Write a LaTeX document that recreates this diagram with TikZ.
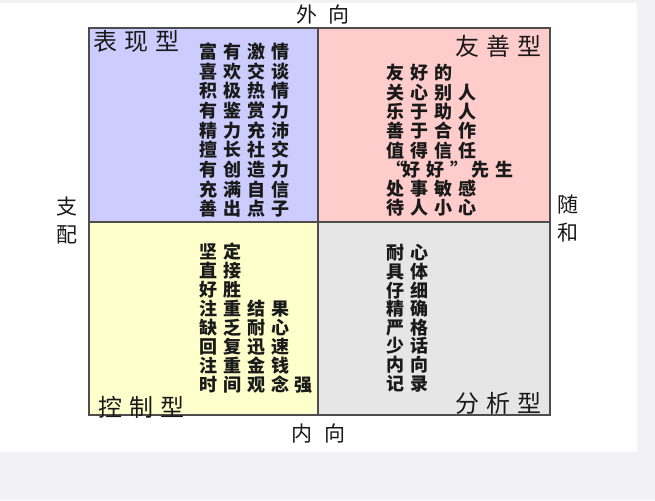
\documentclass[tikz,border=0pt]{standalone}
\usepackage{fontspec}
\newfontfamily\cjk{Noto Sans CJK SC}
\newfontfamily\cjkbody{Noto Sans CJK SC}[LetterSpace=33]
\newfontfamily\cjktitle{Noto Sans CJK SC}[LetterSpace=29]
\definecolor{qtl}{HTML}{CCCCFF}
\definecolor{qtr}{HTML}{FFCCCC}
\definecolor{qbl}{HTML}{FFFFCC}
\definecolor{qbr}{HTML}{E6E6E6}
\definecolor{edge}{HTML}{4D4D4D}
\definecolor{ink}{HTML}{1A1A1A}
\definecolor{backg}{HTML}{F2F2F4}
\tikzset{
  body/.style={inner sep=0pt, anchor=base west, text=ink, font=\cjkbody\bfseries\fontsize{18}{20}\selectfont},
  qtitle/.style={inner sep=0pt, anchor=base west, text=ink, font=\cjktitle\fontsize{24}{28}\selectfont},
  axislabel/.style={inner sep=0pt, text=ink, font=\cjk\fontsize{21}{28}\selectfont, align=center},
  quadline/.style={draw=edge, line width=1.6pt}
}
\begin{document}
\begin{tikzpicture}[x=1pt,y=-1pt]
\useasboundingbox (0,0) rectangle (655,500);
\fill[backg] (0,0) rectangle (655,500);
\fill[white] (0,3) rectangle (637,452);
% quadrants
\fill[qtl] (89,28) rectangle (318,222);
\fill[qtr] (318,28) rectangle (550,222);
\fill[qbl] (89,222) rectangle (318,415);
\fill[qbr] (318,222) rectangle (550,415);
\draw[quadline] (89,28) rectangle (550,415);
\draw[quadline] (318,28) -- (318,415);
\draw[quadline] (89,222) -- (550,222);
% titles
\node[qtitle] (ttl) at (93,51) {表现型};
\node[qtitle] (ttr) at (455,56) {友善型};
\node[qtitle] (tbl) at (98,416) {控制型};
\node[qtitle] (tbr) at (455,412) {分析型};
% axis labels
\node[axislabel, anchor=base] (top) at (323,23) {外\hspace{12pt}向};
\node[axislabel, anchor=base] (bottom) at (318.5,441) {内\hspace{12pt}向};
\node[axislabel] (left) at (67,220) {支\\配};
\node[axislabel] (right) at (568,218) {随\\和};
% body texts
\foreach \t [count=\i] in {富有激情,喜欢交谈,积极热情,有鉴赏力,精力充沛,擅长社交,有创造力,充满自信,善出点子}
  \node[body] (tl\i) at (199,{58.8+19.6*(\i-1)}) {\t};
\foreach \t [count=\i] in {友好的,关心别人,乐于助人,善于合作,值得信任,{“\kern-2pt 好好”\kern3pt 先生},处事敏感,待人小心}
  \node[body] (tr\i) at (386,{79.8+19.3*(\i-1)}) {\t};
\foreach \t [count=\i] in {坚定,直接,好胜,注重结果,缺乏耐心,回复迅速,注重金钱,时间观念强}
  \node[body] (bl\i) at (199,{258.8+19*(\i-1)}) {\t};
\foreach \t [count=\i] in {耐心,具体,仔细,精确,严格,少话,内向,记录}
  \node[body] (br\i) at (386,{259.8+18.6*(\i-1)}) {\t};
\end{tikzpicture}
\end{document}
